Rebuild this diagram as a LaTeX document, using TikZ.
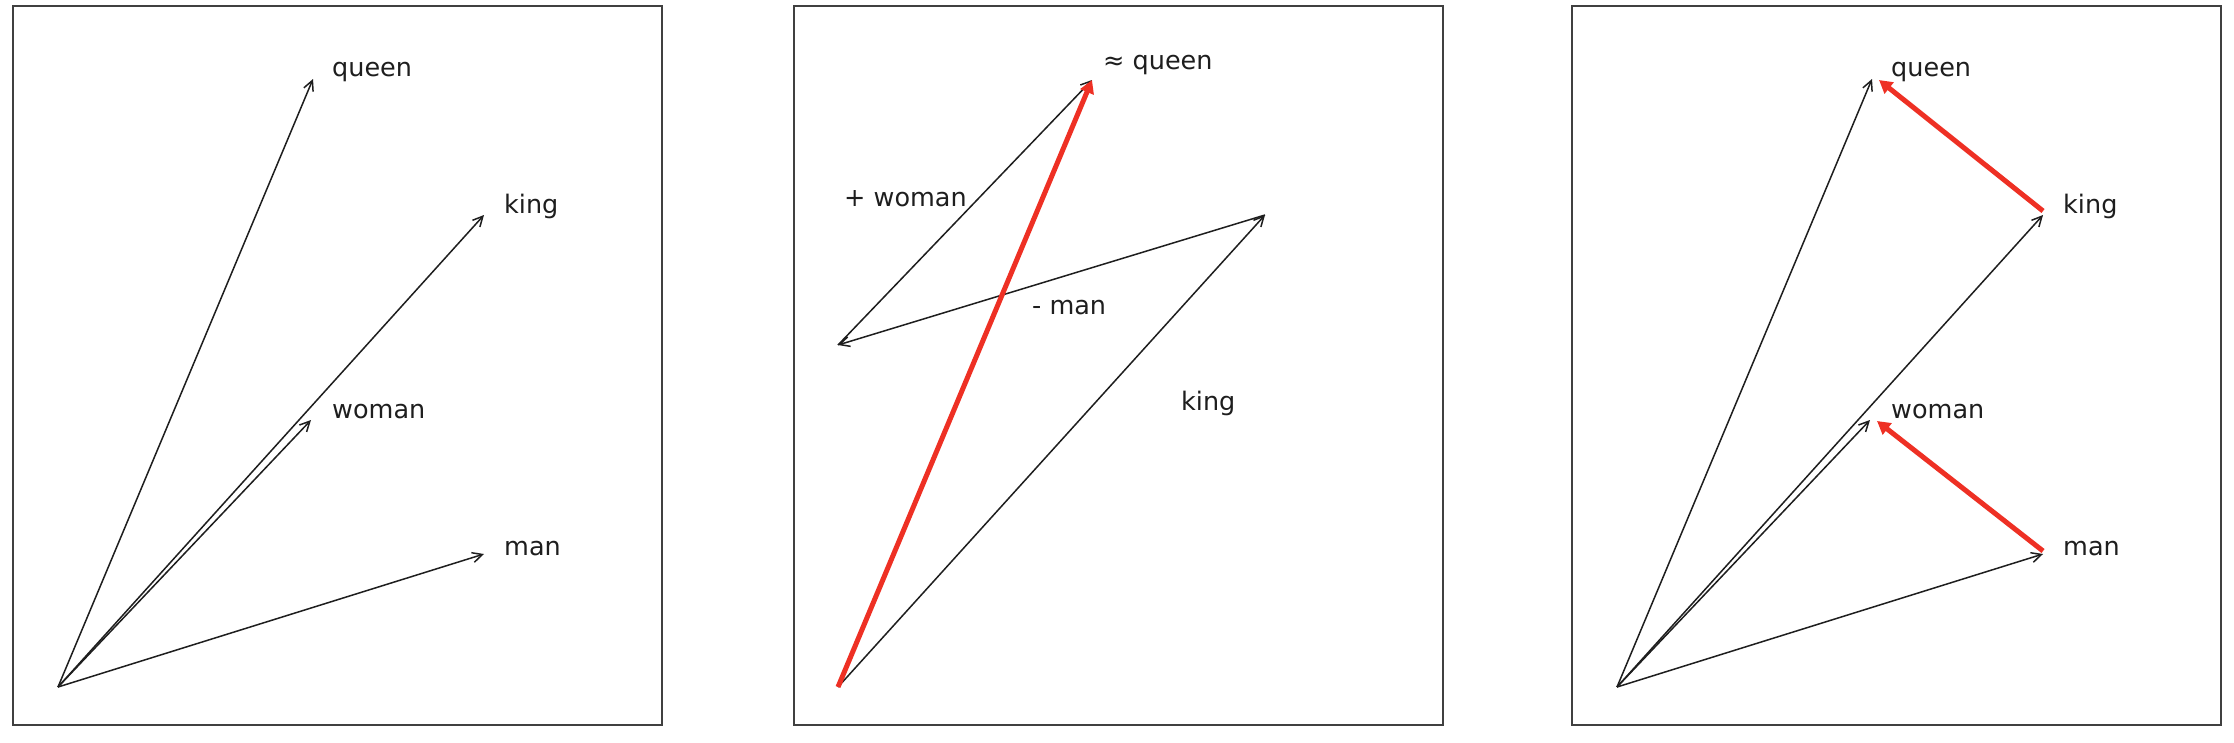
\documentclass[tikz,border=0pt]{standalone}
\usepackage{fontspec}
\setmainfont{DejaVu Sans}
\usetikzlibrary{arrows.meta}
\definecolor{vred}{RGB}{238,48,36}
\definecolor{ink}{RGB}{30,30,30}
\begin{document}
\begin{tikzpicture}[x=1pt,y=-1pt,
  vec/.style={draw=ink, line width=1.5pt, -{Straight Barb[length=10pt,width=10pt,line width=1.5pt]}},
  redvec/.style={draw=vred, line width=5pt, -{Triangle[length=13pt,width=14pt]}},
  frame/.style={draw=black!75, line width=2pt},
  lbl/.style={anchor=base west, inner sep=0pt, font=\fontsize{25.5}{30}\selectfont, text=ink}]
\useasboundingbox (0,0) rectangle (2234,742);
\fill[white] (0,0) rectangle (2234,742);

% ---------- panel 1 ----------
\draw[frame] (13,6) rectangle (662,725);
\coordinate (o1) at (58,687);
\coordinate (q1) at (313,79);
\coordinate (k1) at (484,215);
\coordinate (w1) at (311,420);
\coordinate (m1) at (484,554);
\draw[vec] (o1) -- (q1);
\draw[vec] (o1) -- (k1);
\draw[vec] (o1) -- (w1);
\draw[vec] (o1) -- (m1);
\node[lbl] (lq1) at (332,76) {queen};
\node[lbl] (lk1) at (504,213) {king};
\node[lbl] (lw1) at (332,418) {woman};
\node[lbl] (lm1) at (504,555) {man};

% ---------- panel 2 ----------
\draw[frame] (794,6) rectangle (1443,725);
\coordinate (o2) at (838,687);
\coordinate (k2) at (1265,215);
\coordinate (km2) at (838,345);
\coordinate (q2) at (1092,80);
\draw[vec] (o2) -- (k2);
\draw[vec] (k2) -- (km2);
\draw[vec] (km2) -- (q2);
\draw[redvec] (o2) -- (q2);
\node[lbl] (lq2) at (1103,69) {≈ queen};
\node[lbl] (lw2) at (844,206) {+ woman};
\node[lbl] (lm2) at (1032,314) {- man};
\node[lbl] (lk2) at (1181,410) {king};

% ---------- panel 3 ----------
\draw[frame] (1572,6) rectangle (2221,725);
\coordinate (o3) at (1617,687);
\coordinate (q3) at (1872,79);
\coordinate (k3) at (2043,215);
\coordinate (w3) at (1870,420);
\coordinate (m3) at (2043,554);
\coordinate (k3r) at (2043,211);
\coordinate (q3r) at (1879,80);
\coordinate (m3r) at (2043,551);
\coordinate (w3r) at (1877,421);
\draw[vec] (o3) -- (q3);
\draw[vec] (o3) -- (k3);
\draw[vec] (o3) -- (w3);
\draw[vec] (o3) -- (m3);
\draw[redvec] (k3r) -- (q3r);
\draw[redvec] (m3r) -- (w3r);
\node[lbl] (lq3) at (1891,76) {queen};
\node[lbl] (lk3) at (2063,213) {king};
\node[lbl] (lw3) at (1891,418) {woman};
\node[lbl] (lm3) at (2063,555) {man};
\end{tikzpicture}
\end{document}
